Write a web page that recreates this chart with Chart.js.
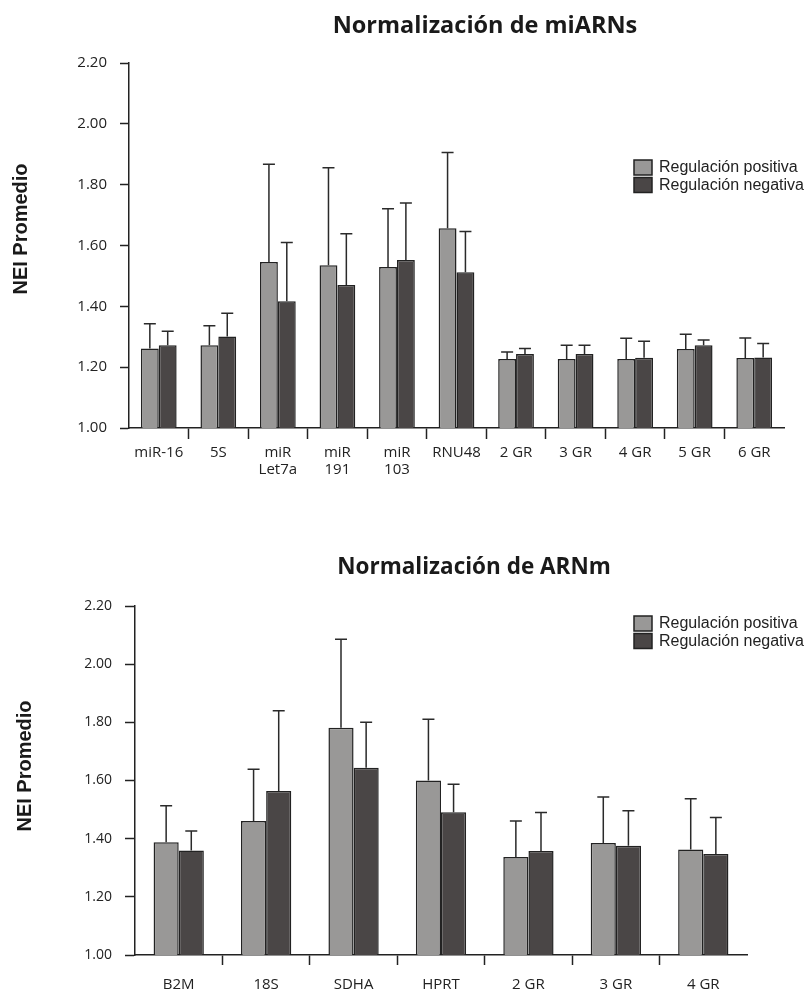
<!DOCTYPE html>
<html>
<head>
<meta charset="utf-8">
<script src="https://cdn.jsdelivr.net/npm/chart.js@4.4.0/dist/chart.umd.min.js"></script>
<style>
  body { margin: 0; background: #fff; }
  canvas { display: block; }
</style>
</head>
<body>
<canvas id="chartMi" width="805" height="500"></canvas>
<canvas id="chartM" width="805" height="494"></canvas>
<script>
const seriesNames = ['Regulación positiva', 'Regulación negativa'];
const yTickValues = [1.00, 1.20, 1.40, 1.60, 1.80, 2.00, 2.20];
const yAxisTitle = 'NEI Promedio';

// miARNs
const miLabels = ['miR-16', '5S', ['miR', 'Let7a'], ['miR', '191'], ['miR', '103'], 'RNU48', '2 GR', '3 GR', '4 GR', '5 GR', '6 GR'];
const miPos   = [1.261, 1.272, 1.546, 1.535, 1.529, 1.657, 1.227, 1.227, 1.227, 1.260, 1.230];
const miPosSD = [0.082, 0.064, 0.321, 0.321, 0.192, 0.249, 0.023, 0.045, 0.068, 0.048, 0.066];
const miNeg   = [1.272, 1.301, 1.417, 1.470, 1.552, 1.512, 1.243, 1.243, 1.231, 1.272, 1.232];
const miNegSD = [0.046, 0.076, 0.193, 0.169, 0.188, 0.134, 0.018, 0.029, 0.054, 0.017, 0.046];

// ARNm
const mLabels = ['B2M', '18S', 'SDHA', 'HPRT', '2 GR', '3 GR', '4 GR'];
const mPos   = [1.388, 1.461, 1.781, 1.600, 1.337, 1.385, 1.363];
const mPosSD = [0.125, 0.178, 0.305, 0.211, 0.124, 0.158, 0.174];
const mNeg   = [1.359, 1.564, 1.644, 1.491, 1.358, 1.376, 1.347];
const mNegSD = [0.067, 0.276, 0.156, 0.096, 0.132, 0.120, 0.126];

const INK = '#222';
const LIGHT = '#999897';
const DARK = '#4a4646';

// upper error bars, drawn on top of the bars
const errorBars = {
  id: 'errorBars',
  afterDatasetsDraw(chart, args, opts) {
    const ctx = chart.ctx;
    const y = chart.scales.y;
    ctx.save();
    ctx.strokeStyle = '#2a2a2a';
    ctx.lineWidth = 1.5;
    chart.data.datasets.forEach((ds, di) => {
      chart.getDatasetMeta(di).data.forEach((bar, i) => {
        const top = y.getPixelForValue(ds.data[i] + ds.errors[i]);
        ctx.beginPath();
        ctx.moveTo(bar.x, bar.y);
        ctx.lineTo(bar.x, top);
        ctx.moveTo(bar.x - opts.cap / 2, top);
        ctx.lineTo(bar.x + opts.cap / 2, top);
        ctx.stroke();
      });
    });
    ctx.restore();
  }
};

// title, y title and legend placed like in the original figure
const decor = {
  id: 'decor',
  afterDraw(chart, args, o) {
    const ctx = chart.ctx;
    ctx.save();
    ctx.fillStyle = '#1a1a1a';
    ctx.font = 'bold ' + o.titleSize + 'px "Open Sans"';
    ctx.textAlign = 'center';
    ctx.textBaseline = 'alphabetic';
    ctx.fillText(o.title, o.titleX, o.titleY);

    ctx.save();
    ctx.translate(o.yTitleX, o.yTitleY);
    ctx.rotate(-Math.PI / 2);
    ctx.font = 'bold 20px "Liberation Sans"';
    ctx.textBaseline = 'middle';
    ctx.fillText(yAxisTitle, 0, 0);
    ctx.restore();

    ctx.font = '16px "Liberation Sans"';
    ctx.textAlign = 'left';
    ctx.textBaseline = 'middle';
    chart.data.datasets.forEach((ds, i) => {
      const y = o.legendY + i * 17.5;
      ctx.fillStyle = ds.backgroundColor;
      ctx.fillRect(o.legendX, y, 18, 15);
      ctx.strokeStyle = INK;
      ctx.lineWidth = 1.5;
      ctx.strokeRect(o.legendX, y, 18, 15);
      ctx.fillStyle = INK;
      ctx.fillText(ds.label, o.legendX + 25, y + 8);
    });
    ctx.restore();
  }
};

function makeChart(id, cfg) {
  return new Chart(document.getElementById(id), {
    type: 'bar',
    data: {
      labels: cfg.labels,
      datasets: [
        { label: seriesNames[0], data: cfg.pos, errors: cfg.posSD, backgroundColor: LIGHT },
        { label: seriesNames[1], data: cfg.neg, errors: cfg.negSD, backgroundColor: DARK }
      ]
    },
    plugins: [errorBars, decor],
    options: {
      responsive: false,
      animation: false,
      layout: { padding: cfg.padding },
      datasets: {
        bar: {
          borderColor: INK,
          borderWidth: 1.5,
          categoryPercentage: cfg.catPct,
          barPercentage: 1
        }
      },
      plugins: {
        legend: { display: false },
        title: { display: false },
        tooltip: { enabled: false },
        errorBars: { cap: 12 },
        decor: cfg.decor
      },
      scales: {
        x: {
          afterFit(s) { s.height = cfg.xHeight; },
          border: { color: INK, width: 1.5 },
          grid: {
            drawOnChartArea: false,
            tickLength: cfg.xTickLen,
            tickWidth: 1.5,
            tickColor: c => (c.type !== 'tick' || c.index === 0) ? 'rgba(0,0,0,0)' : INK,
            offset: true
          },
          ticks: {
            autoSkip: false,
            maxRotation: 0,
            padding: cfg.xPad,
            color: INK,
            font: { family: '"Open Sans"', size: cfg.xFont, lineHeight: 1.15 }
          }
        },
        y: {
          min: 1,
          max: 2.2,
          afterFit(s) { s.width = cfg.yWidth; },
          afterBuildTicks(s) { s.ticks = yTickValues.map(v => ({ value: v })); },
          border: { color: INK, width: 1.5 },
          grid: {
            drawOnChartArea: false,
            tickLength: cfg.yTickLen,
            tickWidth: 1.5,
            tickColor: INK
          },
          ticks: {
            padding: 13,
            color: INK,
            font: { family: '"Open Sans"', size: cfg.yFont },
            callback: v => Number(v).toFixed(2)
          }
        }
      }
    }
  });
}

makeChart('chartMi', {
  labels: miLabels, pos: miPos, posSD: miPosSD, neg: miNeg, negSD: miNegSD,
  padding: { top: 63, right: 21, bottom: 12, left: 0 },
  catPct: 0.6, xHeight: 60, xTickLen: 11, xPad: 5, xFont: 15,
  yWidth: 129, yTickLen: 9, yFont: 15,
  decor: { title: 'Normalización de miARNs', titleSize: 23.5, titleX: 485, titleY: 33,
           yTitleX: 21, yTitleY: 229, legendX: 634, legendY: 160 }
});

makeChart('chartM', {
  labels: mLabels, pos: mPos, posSD: mPosSD, neg: mNeg, negSD: mNegSD,
  padding: { top: 106, right: 58, bottom: 4, left: 0 },
  catPct: 0.575, xHeight: 35, xTickLen: 10, xPad: 11, xFont: 15,
  yWidth: 135, yTickLen: 10, yFont: 14,
  decor: { title: 'Normalización de ARNm', titleSize: 22.5, titleX: 474, titleY: 74,
           yTitleX: 25.5, yTitleY: 266, legendX: 634, legendY: 116 }
});
</script>
</body>
</html>
